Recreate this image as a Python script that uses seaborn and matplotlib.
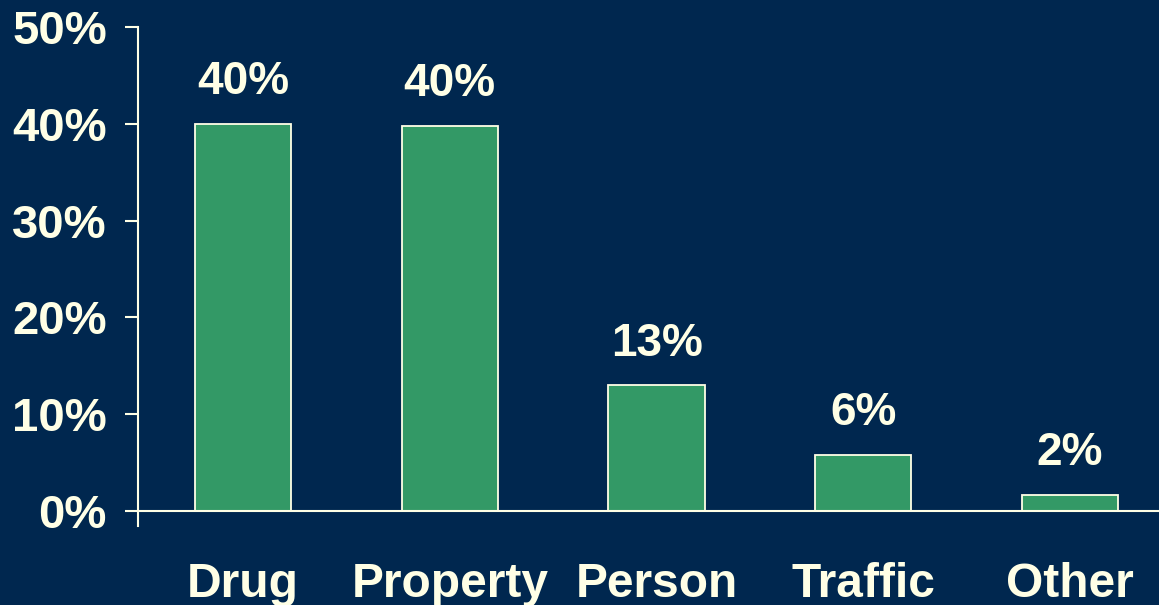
import matplotlib
matplotlib.use("Agg")
import matplotlib.pyplot as plt
import seaborn as sns
import pandas as pd

categories = ["Drug", "Property", "Person", "Traffic", "Other"]
values = [40.0, 39.8, 13.0, 5.8, 1.7]
value_labels = ["40%", "40%", "13%", "6%", "2%"]
yticks = [0, 10, 20, 30, 40, 50]
ytick_labels = ["0%", "10%", "20%", "30%", "40%", "50%"]

BG = "#00274F"
BAR = "#339966"
TXT = "#FFFFE6"

sns.set_theme(style="white")
plt.rcParams["font.family"] = ["Liberation Sans", "DejaVu Sans"]
plt.rcParams["font.weight"] = "bold"

df = pd.DataFrame({"category": categories, "value": values})

fig = plt.figure(figsize=(11.59, 6.05), dpi=100, facecolor=BG)
ax = fig.add_axes([138 / 1159, 79 / 605, 1 - 138 / 1159, 499 / 605])
ax.set_facecolor(BG)

sns.barplot(data=df, x="category", y="value", color=BAR, saturation=1,
            edgecolor=TXT, linewidth=1.3, width=0.465, ax=ax, zorder=2)

ax.set_xlim(-0.508, 4.43)
ax.set_ylim(-1.55, 50)
ax.set_xlabel("")
ax.set_ylabel("")

for s in ["top", "right", "bottom"]:
    ax.spines[s].set_visible(False)
ax.spines["left"].set_color(TXT)
ax.spines["left"].set_linewidth(1.5)
ax.axhline(0, color=TXT, linewidth=1.5, zorder=3, clip_on=False)

ax.set_yticks(yticks)
ax.set_yticklabels(ytick_labels)
ax.tick_params(axis="y", left=True, length=9.5, width=1.5, color=TXT, pad=13,
               labelsize=34, labelcolor=TXT)
ax.tick_params(axis="x", bottom=False, length=0, pad=26, labelsize=34.5,
               labelcolor=TXT)
for lab in ax.get_xticklabels() + ax.get_yticklabels():
    lab.set_fontweight("bold")

for i, (v, lbl) in enumerate(zip(values, value_labels)):
    ax.annotate(lbl, (i, v), xytext=(0, 14), textcoords="offset points",
                ha="center", va="bottom", fontsize=33, fontweight="bold",
                color=TXT)

fig.savefig("out.png", dpi=100, facecolor=BG)
